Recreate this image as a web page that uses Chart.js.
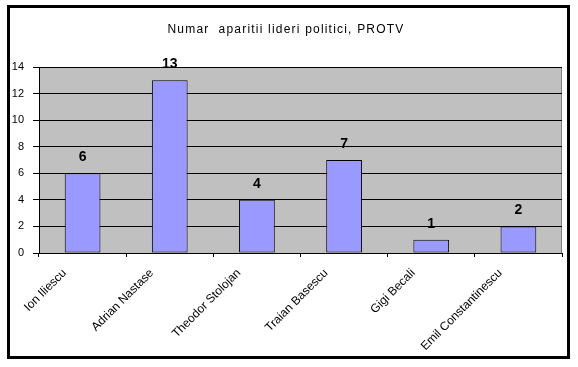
<!DOCTYPE html>
<html>
<head>
<meta charset="utf-8">
<script src="https://cdn.jsdelivr.net/npm/chart.js@4/dist/chart.umd.min.js"></script>
<style>
    body { margin: 0; background: #fff; }
    #wrap { position: relative; width: 578px; height: 367px; }
    #frame {
        position: absolute; left: 7px; top: 5px; width: 563px; height: 354px;
        border: 3px solid #000; box-sizing: border-box; pointer-events: none;
    }
</style>
</head>
<body>
<div id="wrap">
    <canvas id="chart" width="578" height="367"></canvas>
    <div id="frame"></div>
</div>
<script>
// ---- data ----
const names = ['Ion Iliescu', 'Adrian Nastase', 'Theodor Stolojan', 'Traian Basescu', 'Gigi Becali', 'Emil Constantinescu'];
const appearances = [6, 13, 4, 7, 1, 2];
const yTicks = [0, 2, 4, 6, 8, 10, 12, 14];

const FONT = 'Arial, "Liberation Sans", sans-serif';

// grey plot area like the old Excel charts
const plotBg = {
    id: 'plotBg',
    beforeDraw(chart) {
        const { ctx, chartArea: a } = chart;
        ctx.save();
        ctx.fillStyle = '#C0C0C0';
        ctx.fillRect(a.left, a.top, a.right - a.left, a.bottom - a.top);
        ctx.strokeStyle = '#808080';
        ctx.lineWidth = 1;
        ctx.strokeRect(a.left + 0.5, a.top + 0.5, a.right - a.left - 1, a.bottom - a.top);
        ctx.restore();
    }
};

// excel spreads the title letters a bit
const titleSpacing = {
    id: 'titleSpacing',
    afterInit(chart) {
        const tb = chart.titleBlock;
        if (!tb) return;
        const orig = tb.draw;
        tb.draw = function () {
            const ctx = chart.ctx;
            ctx.letterSpacing = '1.2px';
            orig.apply(this, arguments);
            ctx.letterSpacing = '0px';
        };
    }
};

// value above each bar
const barValues = {
    id: 'barValues',
    afterDatasetsDraw(chart) {
        const { ctx } = chart;
        const meta = chart.getDatasetMeta(0);
        ctx.save();
        ctx.font = 'bold 14px ' + FONT;
        ctx.fillStyle = '#000';
        ctx.textAlign = 'center';
        ctx.textBaseline = 'alphabetic';
        meta.data.forEach((bar, i) => {
            ctx.fillText(appearances[i], bar.x, bar.y - 12);
        });
        ctx.restore();
    }
};

new Chart(document.getElementById('chart'), {
    type: 'bar',
    data: {
        labels: names,
        datasets: [{
            data: appearances,
            backgroundColor: '#9999FF',
            borderColor: '#000',
            borderWidth: 1,
            borderSkipped: false,
            barPercentage: 0.41,
            categoryPercentage: 1
        }]
    },
    options: {
        responsive: false,
        animation: false,
        devicePixelRatio: 1,
        layout: { padding: { left: 10, right: 16, top: 10, bottom: 10 } },
        plugins: {
            legend: { display: false },
            tooltip: { enabled: false },
            title: {
                display: true,
                text: 'Numar  aparitii lideri politici, PROTV',
                color: '#000',
                font: { family: FONT, size: 12, weight: 'normal', lineHeight: 1.2 },
                padding: { top: 12, bottom: 30.6 }
            }
        },
        scales: {
            x: {
                grid: { drawOnChartArea: false, drawTicks: true, tickLength: 4, color: '#000', offset: true },
                border: { color: '#000', width: 1 },
                ticks: {
                    color: '#000',
                    font: { family: FONT, size: 12 },
                    minRotation: 45,
                    maxRotation: 45,
                    autoSkip: false,
                    labelOffset: -18,
                    padding: 9
                },
                // tall enough that the longest rotated name is not clipped
                afterFit(scale) { scale.height = 104; }
            },
            y: {
                min: 0,
                max: 14,
                afterBuildTicks(scale) { scale.ticks = yTicks.map(v => ({ value: v })); },
                grid: { color: '#000', lineWidth: 1, tickLength: 6 },
                border: { color: '#000', width: 1 },
                ticks: {
                    color: '#000',
                    font: { family: FONT, size: 11 },
                    padding: 9
                },
                afterFit(scale) { scale.width = 29; }
            }
        }
    },
    plugins: [plotBg, titleSpacing, barValues]
});
</script>
</body>
</html>
